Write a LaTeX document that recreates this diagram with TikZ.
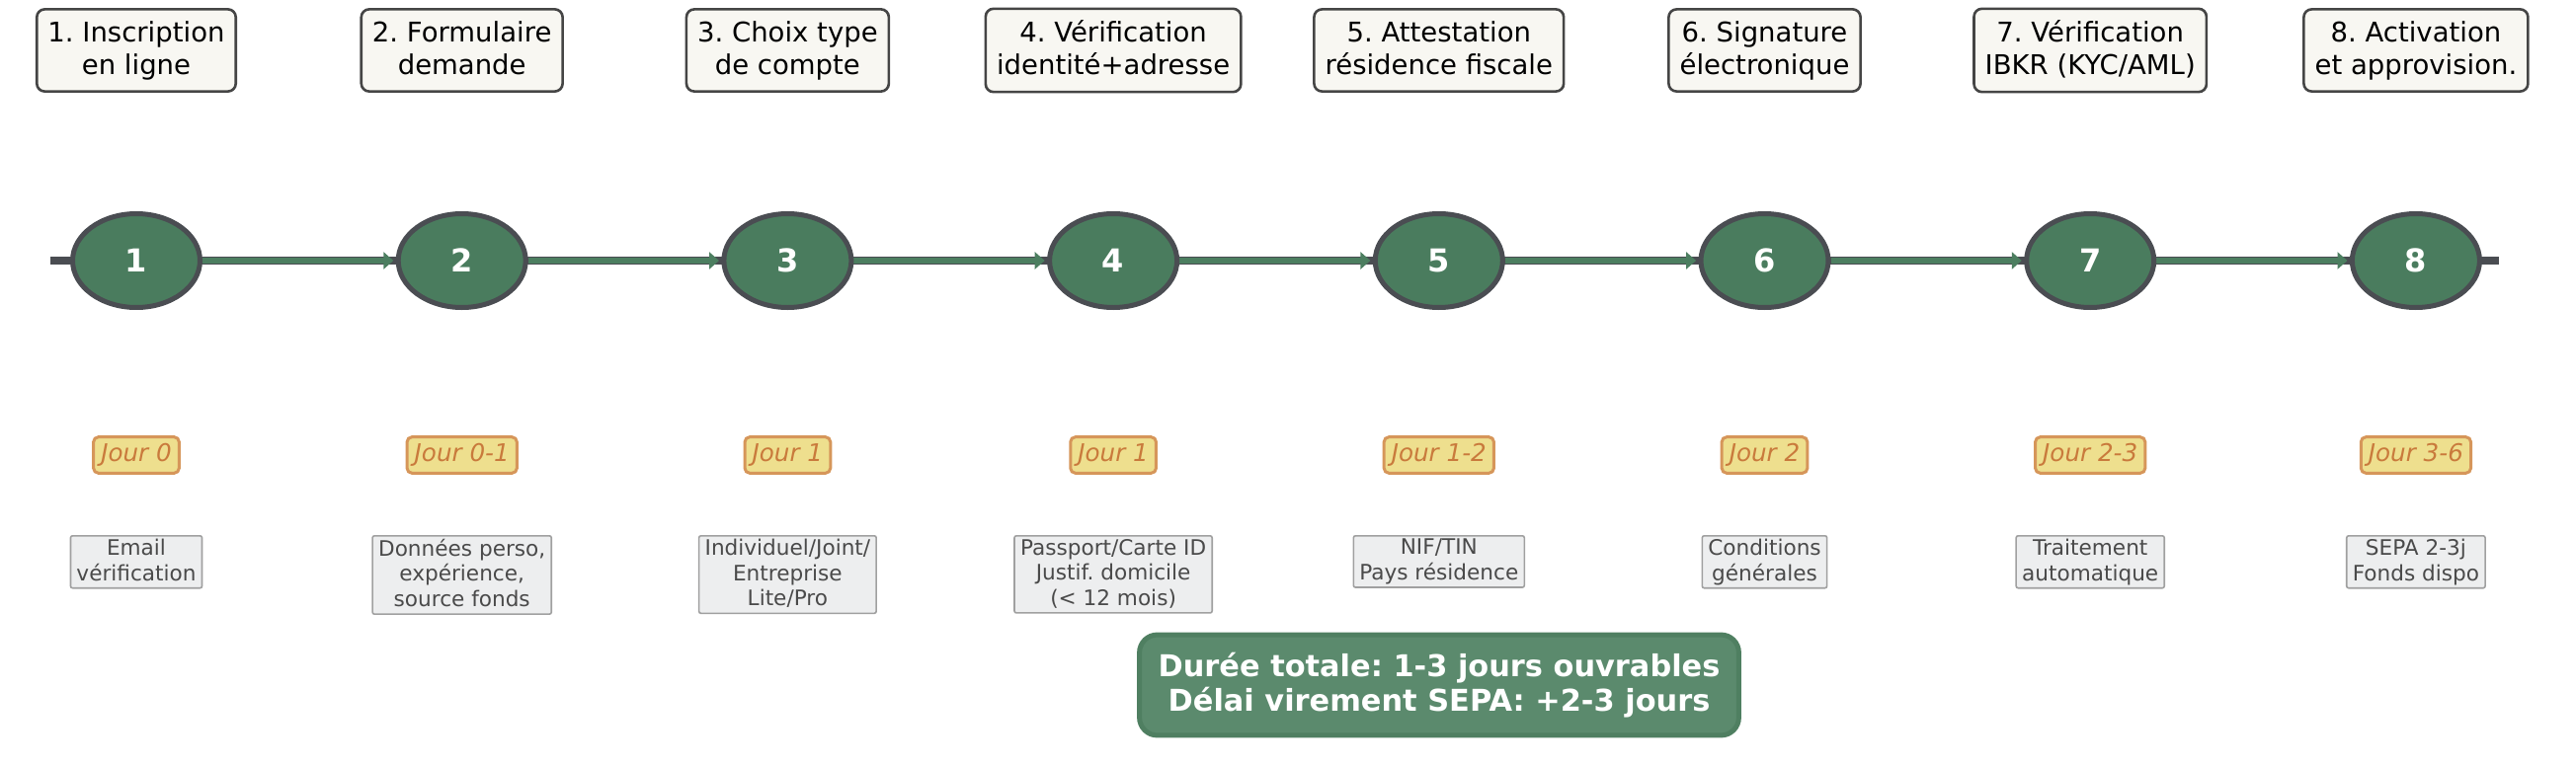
\documentclass[tikz,border=0pt]{standalone}
\usepackage{fontspec}
\setmainfont{DejaVu Sans}[ItalicFont={DejaVu Sans Oblique},BoldFont={DejaVu Sans Bold},BoldItalicFont={DejaVu Sans Bold Oblique}]
\usetikzlibrary{shapes.geometric,arrows.meta,backgrounds}
\definecolor{gnode}{HTML}{4A7C5E}
\definecolor{gline}{HTML}{4C7E60}
\definecolor{dgray}{HTML}{4A4D52}
\definecolor{tfill}{HTML}{F8F7F2}
\definecolor{tdraw}{HTML}{454545}
\definecolor{jfill}{HTML}{EEDF8E}
\definecolor{jdraw}{HTML}{D6965A}
\definecolor{jtext}{HTML}{C97A3C}
\definecolor{dfill}{HTML}{EDEEEF}
\definecolor{ddraw}{HTML}{A0A0A0}
\definecolor{dtext}{HTML}{4A4A4A}
\definecolor{sfill}{HTML}{5B8A6D}
\definecolor{sdraw}{HTML}{4F7F61}
\newcommand{\lgstrut}{\vphantom{lg}}
\frenchspacing
\begin{document}
\begin{tikzpicture}[x=0.5pt,y=-0.5pt,
  stepcirc/.style={ellipse,draw=dgray,fill=gnode,line width=2.5pt,minimum width=64.5pt,minimum height=47.5pt,inner sep=0pt,text=white,font=\fontsize{16pt}{18pt}\selectfont\bfseries},
  titlebox/.style={rectangle,rounded corners=4pt,draw=tdraw,fill=tfill,line width=1.3pt,align=center,inner xsep=5.6pt,inner ysep=5.9pt,font=\fontsize{13.75pt}{16.5pt}\selectfont,execute at begin node=\lgstrut,execute at end node=\lgstrut},
  jourbox/.style={rectangle,rounded corners=2.5pt,draw=jdraw,fill=jfill,line width=1.5pt,inner xsep=3.8pt,inner ysep=3.2pt,text=jtext,font=\fontsize{12.3pt}{14pt}\selectfont\itshape,execute at begin node=\lgstrut},
  descbox/.style={rectangle,rounded corners=1pt,draw=ddraw,fill=dfill,line width=0.8pt,align=center,inner xsep=3pt,inner ysep=1.6pt,text=dtext,font=\fontsize{10.8pt}{12.8pt}\selectfont,execute at begin node=\lgstrut,execute at end node=\lgstrut},
  sumbox/.style={rectangle,rounded corners=9pt,draw=sdraw,fill=sfill,line width=2.5pt,align=center,inner xsep=9.5pt,inner ysep=9pt,text=white,font=\fontsize{15.2pt}{17.5pt}\selectfont\bfseries,execute at begin node=\lgstrut,execute at end node=\lgstrut},
  baseline/.style={draw=dgray,line width=4pt},
  flowarrow/.style={draw=gline,line width=3pt,shorten >=1.2pt,-{Triangle[length=5pt,width=8.5pt]}}
]
\useasboundingbox (0,0) rectangle (2608,776);
\foreach \i/\ttl/\jr/\ds in {
  1/{1. Inscription\\en ligne}/{Jour 0}/{Email\\vérification},
  2/{2. Formulaire\\demande}/{Jour 0-1}/{Données perso,\\expérience,\\source fonds},
  3/{3. Choix type\\de compte}/{Jour 1}/{Individuel/Joint/\\Entreprise\\Lite/Pro},
  4/{4. Vérification\\identité+adresse}/{Jour 1}/{Passport/Carte ID\\Justif. domicile\\(< 12 mois)},
  5/{5. Attestation\\résidence fiscale}/{Jour 1-2}/{NIF/TIN\\Pays résidence},
  6/{6. Signature\\électronique}/{Jour 2}/{Conditions\\générales},
  7/{7. Vérification\\IBKR (KYC/AML)}/{Jour 2-3}/{Traitement\\automatique},
  8/{8. Activation\\et approvision.}/{Jour 3-6}/{SEPA 2-3j\\Fonds dispo}}{
  \pgfmathsetmacro{\xx}{138+329.7*(\i-1)}
  \node[stepcirc] (c\i) at (\xx,264) {\i};
  \node[titlebox] (t\i) at (\xx,51) {\ttl};
  \node[jourbox] (j\i) at (\xx,461) {\jr};
  \node[descbox,anchor=north] (d\i) at (\xx,542) {\ds};
}
\coordinate (ls) at (51,264);
\coordinate (le) at (2530,264);
\begin{scope}[on background layer]
  \draw[baseline] (ls) -- (le);
  \foreach \i [evaluate=\i as \n using int(\i+1)] in {1,...,7}{
    \draw[flowarrow] (c\i) -- (c\n);
  }
\end{scope}
\node[sumbox] (sum) at (1457,694) {Durée totale: 1-3 jours ouvrables\\Délai virement SEPA: +2-3 jours};
\end{tikzpicture}
\end{document}
